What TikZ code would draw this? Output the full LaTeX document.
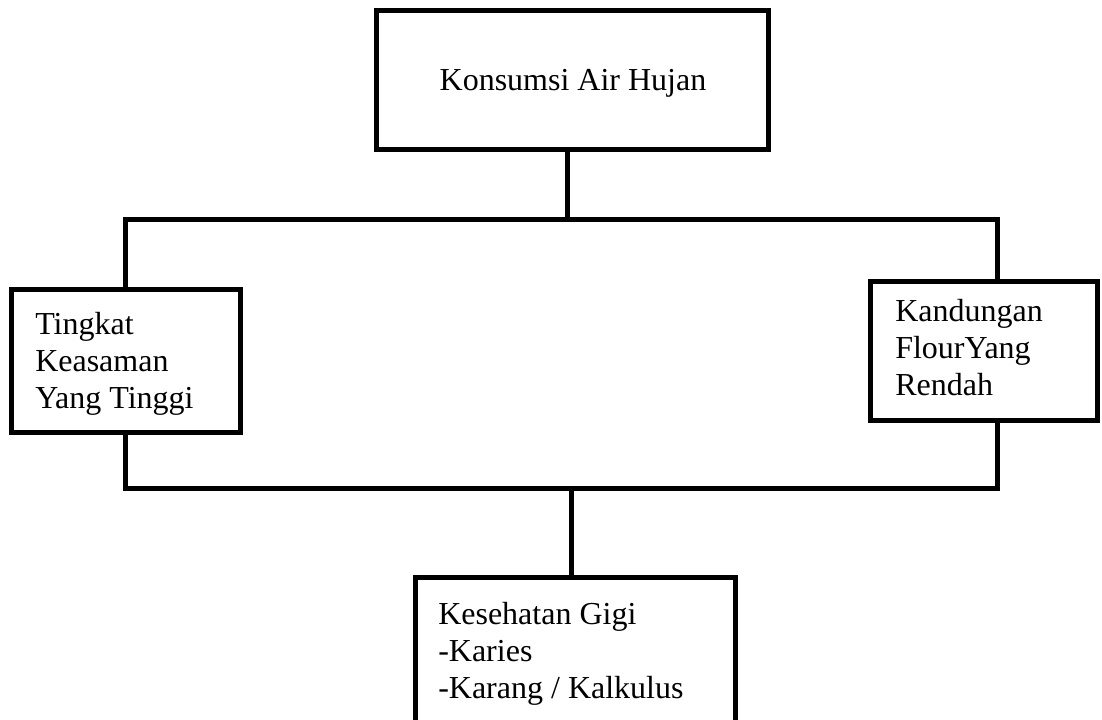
\documentclass[tikz,border=0pt]{standalone}
\usepackage{fontspec}
\setmainfont{Liberation Serif}
\begin{document}
\begin{tikzpicture}[x=0.75pt,y=-0.75pt,
  box/.style={draw=black,line width=3.75pt,rectangle,inner sep=0pt},
  txt/.style={font=\fontsize{24pt}{27.75pt}\selectfont,inner sep=0pt,align=left},
  conn/.style={line width=3.75pt,black}]
\useasboundingbox (0,0) rectangle (1102,720);
% boxes
\node[box,minimum width=392*0.75pt,minimum height=139*0.75pt] (top) at (572,80.5) {};
\node[box,minimum width=229*0.75pt,minimum height=143*0.75pt] (left) at (125.5,360.5) {};
\node[box,minimum width=227*0.75pt,minimum height=139*0.75pt] (right) at (983.5,350.5) {};
\node[box,minimum width=320*0.75pt,minimum height=160*0.75pt] (bottom) at (575,657) {};
% texts (base anchor = baseline of last line)
\node[txt,anchor=base] (ttop) at (573,91) {Konsumsi Air Hujan};
\node[txt,anchor=base west] (tleft) at (35,408) {Tingkat\\Keasaman\\Yang Tinggi};
\node[txt,anchor=base west] (tright) at (895,395) {Kandungan\\FlourYang\\Rendah};
\node[txt,anchor=base west] (tbottom) at (438,698) {Kesehatan Gigi\\-Karies\\-Karang / Kalkulus};
% junctions
\coordinate (jt) at (567,220);
\coordinate (tl) at (125,220);
\coordinate (tr) at (997,220);
\coordinate (bl) at (125,488);
\coordinate (br) at (997,488);
\coordinate (jb) at (571,488);
% connectors
\draw[conn] (jt |- top.south) -- (jt);
\draw[conn] (tl |- left.north) -- (tl) -- (tr) -- (tr |- right.north);
\draw[conn] (bl |- left.south) -- (bl) -- (br) -- (br |- right.south);
\draw[conn] (jb) -- (jb |- bottom.north);
\end{tikzpicture}
\end{document}
